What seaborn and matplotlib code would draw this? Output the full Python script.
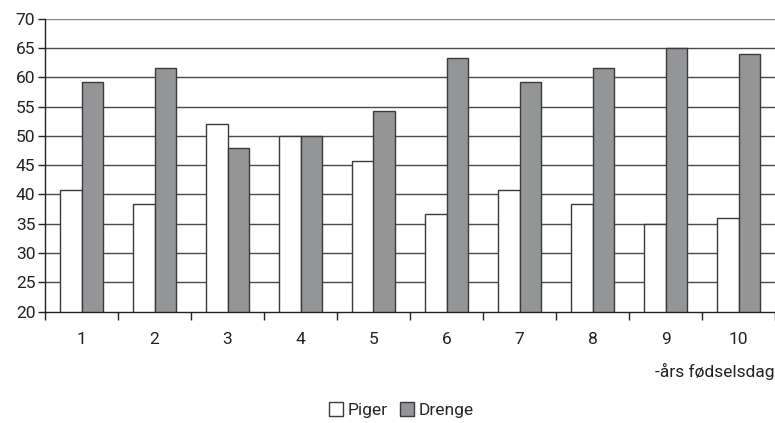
"""Piger vs. drenge per fødselsdag, grouped bar chart."""

import matplotlib

matplotlib.use("Agg")
import matplotlib.pyplot as plt
import numpy as np
import pandas as pd
import seaborn as sns
from matplotlib.patches import Patch

# Data (percent, pairs add to 100).
birthdays = ["1", "2", "3", "4", "5", "6", "7", "8", "9", "10"]
piger = [40.7, 38.4, 52.0, 50.0, 45.8, 36.7, 40.7, 38.3, 35.0, 36.0]
drenge = [59.3, 61.6, 48.0, 50.0, 54.2, 63.3, 59.3, 61.7, 65.0, 64.0]
series_names = ["Piger", "Drenge"]
y_ticks = [20, 25, 30, 35, 40, 45, 50, 55, 60, 65, 70]

COLORS = {"Piger": "#ffffff", "Drenge": "#939598"}
EDGE = "#3a3a3a"
FS = 12.5

df = pd.DataFrame(
    {
        "dag": birthdays * 2,
        "køn": ["Piger"] * len(birthdays) + ["Drenge"] * len(birthdays),
        "værdi": piger + drenge,
    }
)

sns.set_theme(style="white")
plt.rcParams["font.family"] = ["Roboto", "DejaVu Sans"]

fig = plt.figure(figsize=(7.75, 4.23), dpi=100)
ax = fig.add_axes([45 / 775, 1 - 311.5 / 423, 730 / 775, 292.5 / 423])

# grid first so bars sit on top
for v in y_ticks[1:]:
    ax.axhline(v, color="#8a8a8a" if v == 70 else "#4a4a4a", lw=1.0, zorder=0)

sns.barplot(
    data=df,
    x="dag",
    y="værdi",
    hue="køn",
    hue_order=series_names,
    palette=COLORS,
    width=0.58,
    gap=0,
    edgecolor=EDGE,
    linewidth=1.0,
    legend=False,
    ax=ax,
    zorder=2,
)

ax.set_ylim(20, 70)
ax.set_xlim(-0.5, 9.5)
ax.set_yticks(y_ticks)
ax.set_yticklabels([str(t) for t in y_ticks], fontsize=FS, color="#222222")
ax.tick_params(axis="y", length=5, width=1, color="#222222", left=True, pad=2)

ax.set_xticks(range(len(birthdays)))
ax.set_xticklabels(birthdays, fontsize=FS, color="#222222")
ax.set_xticks(np.arange(-0.5, 10, 1.0), minor=True)
ax.tick_params(axis="x", which="major", length=0, pad=15)
ax.tick_params(axis="x", which="minor", length=6, width=1, color="#222222",
               bottom=True, direction="out")

ax.set_xlabel("-års fødselsdag", loc="right", fontsize=FS, color="#222222",
              labelpad=11)
ax.set_ylabel("")

for side in ["top", "right"]:
    ax.spines[side].set_visible(False)
for side in ["left", "bottom"]:
    ax.spines[side].set_color("#222222")
    ax.spines[side].set_linewidth(1.0)

handles = [Patch(facecolor=COLORS[n], edgecolor=EDGE, linewidth=1.0) for n in series_names]
fig.legend(
    handles,
    series_names,
    loc="center",
    bbox_to_anchor=(0.518, 0.03),
    ncol=2,
    frameon=False,
    fontsize=FS,
    handlelength=0.8,
    handleheight=0.8,
    handletextpad=0.3,
    columnspacing=0.7,
)

fig.savefig("out.png", dpi=100, facecolor="white")
